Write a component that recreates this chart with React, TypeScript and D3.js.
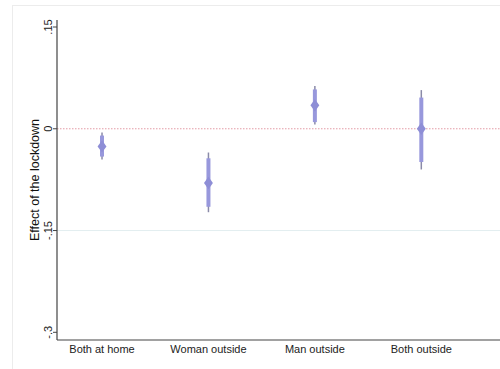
import React from "react";
import * as d3 from "d3";

const categories = ["Both at home", "Woman outside", "Man outside", "Both outside"];
const estimates = [-0.026, -0.080, 0.0345, 0.0];
const ci95Low = [-0.0454, -0.123, 0.0064, -0.060];
const ci95High = [-0.0055, -0.035, 0.063, 0.057];
const ci90Low = [-0.041, -0.115, 0.0098, -0.049];
const ci90High = [-0.010, -0.0435, 0.058, 0.046];
const yTicks = [0.15, 0, -0.15, -0.3];
const yTickLabels = [".15", "0", "-.15", "-.3"];

export default function App() {
  const W = 500, H = 369;
  const left = 57, right = 499, top = 20, bottom = 340;
  const y = d3.scaleLinear().domain([-0.3, 0.15]).range([332.3, 27]);
  const x = d3.scaleLinear().domain([0.577, 4.73]).range([left, right]);
  const font = "'Liberation Sans', Arial, sans-serif";
  const diamond = d3.symbol().type(d3.symbolDiamond).size(44)() as string;
  return (
    <svg width={W} height={H} style={{ position: "absolute", left: 0, top: 0, background: "#fff" }}>
      <rect x={12.5} y={5.5} width={W} height={H} fill="#fff" stroke="#ececec" />
      <line x1={left} x2={right + 1} y1={y(-0.15)} y2={y(-0.15)} stroke="#e3eef0" strokeWidth={1} />
      <line x1={left} x2={right + 1} y1={y(0)} y2={y(0)} stroke="#e39aa6" strokeWidth={1} strokeDasharray="1.5,1.5" />
      {categories.map((c, i) => {
        const cx = x(i + 1);
        return (
          <g key={c}>
            <line x1={cx} x2={cx} y1={y(ci95High[i])} y2={y(ci95Low[i])} stroke="#8a8aa8" strokeWidth={1.5} />
            <line x1={cx} x2={cx} y1={y(ci90High[i])} y2={y(ci90Low[i])} stroke="#9898dc" strokeWidth={4} />
            <path d={diamond} transform={`translate(${cx},${y(estimates[i])}) scale(1.25,1)`} fill="#8e8ed6" />
          </g>
        );
      })}
      <line x1={left} x2={left} y1={top} y2={bottom} stroke="#444" strokeWidth={1.2} />
      <line x1={left} x2={right + 1} y1={bottom} y2={bottom} stroke="#444" strokeWidth={1.2} />
      {yTicks.map((t, i) => (
        <g key={t}>
          <line x1={left - 4} x2={left} y1={y(t)} y2={y(t)} stroke="#444" strokeWidth={1} />
          <text
            transform={`translate(${left - 5},${y(t)}) rotate(-90)`}
            textAnchor="middle"
            fontFamily={font}
            fontSize={11}
            fill="#222"
          >
            {yTickLabels[i]}
          </text>
        </g>
      ))}
      {categories.map((c, i) => (
        <text key={c} x={x(i + 1)} y={353} textAnchor="middle" fontFamily={font} fontSize={11} fill="#222">
          {c}
        </text>
      ))}
      <text
        transform={`translate(39,${(top + bottom) / 2}) rotate(-90)`}
        textAnchor="middle"
        fontFamily={font}
        fontSize={12.5}
        fill="#111"
      >
        Effect of the lockdown
      </text>
    </svg>
  );
}
